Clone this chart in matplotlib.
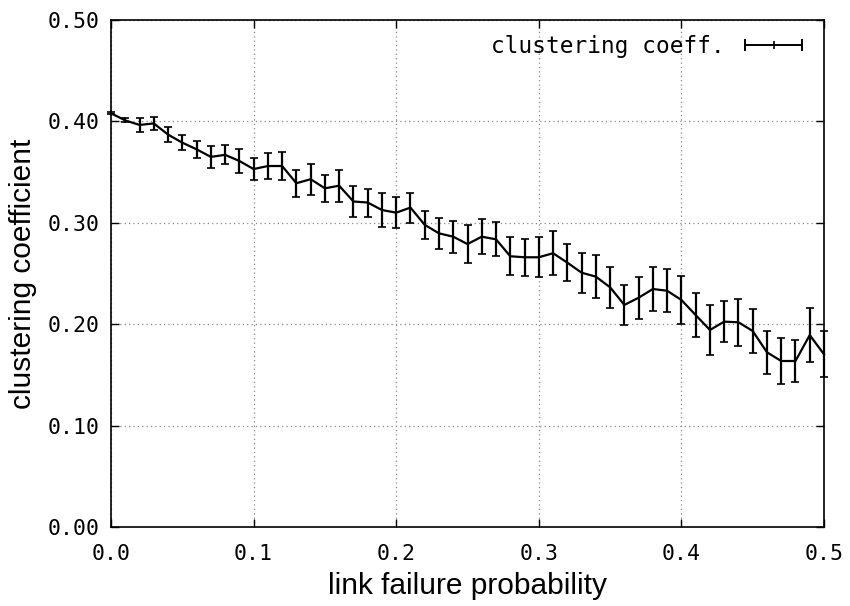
import matplotlib
matplotlib.use("Agg")
import matplotlib.pyplot as plt
from matplotlib.lines import Line2D
from matplotlib.legend_handler import HandlerLine2D
import numpy as np

failure_prob = [round(0.01 * i, 2) for i in range(51)]
clustering = [0.408, 0.401, 0.3965, 0.398, 0.387, 0.379, 0.3725, 0.365, 0.367, 0.361,
              0.353, 0.356, 0.356, 0.339, 0.343, 0.334, 0.3366, 0.321, 0.320, 0.3126,
              0.310, 0.315, 0.298, 0.2896, 0.2863, 0.279, 0.2863, 0.2837, 0.267, 0.266,
              0.266, 0.270, 0.2607, 0.2508, 0.2469, 0.2364, 0.219, 0.2261, 0.2347, 0.233,
              0.2239, 0.209, 0.1943, 0.2025, 0.2019, 0.1933, 0.1723, 0.1637, 0.1637, 0.1893,
              0.1703]
clustering_err = [0.001, 0.002, 0.007, 0.0062, 0.007, 0.0074, 0.0086, 0.0105, 0.0094, 0.0116,
                  0.0111, 0.0125, 0.0136, 0.0131, 0.0153, 0.0136, 0.0156, 0.0148, 0.0138, 0.0168,
                  0.0156, 0.0148, 0.0136, 0.0156, 0.0158, 0.0185, 0.0173, 0.0168, 0.0187, 0.0182,
                  0.0197, 0.0217, 0.0182, 0.0197, 0.0214, 0.0202, 0.0200, 0.0205, 0.0214, 0.0210,
                  0.0234, 0.0220, 0.0246, 0.0200, 0.0232, 0.0214, 0.0214, 0.0222, 0.0207, 0.0263,
                  0.0227]
xticks = [0.0, 0.1, 0.2, 0.3, 0.4, 0.5]
xtick_labels = ["0.0", "0.1", "0.2", "0.3", "0.4", "0.5"]
yticks = [0.0, 0.1, 0.2, 0.3, 0.4, 0.5]
ytick_labels = ["0.00", "0.10", "0.20", "0.30", "0.40", "0.50"]

mono = "DejaVu Sans Mono"
sans = "Liberation Sans"

fig = plt.figure(figsize=(8.5, 6.06), dpi=100)
ax = fig.add_axes([111 / 850, 79 / 606, 713 / 850, 507 / 606])

ax.errorbar(failure_prob, clustering, yerr=clustering_err, color="black", lw=1.6,
            elinewidth=1.6, capsize=3.0, capthick=1.6, marker="|", ms=5, mew=1.2,
            clip_on=False, zorder=3)

ax.set_xlim(0, 0.5)
ax.set_ylim(0, 0.5)
ax.set_xticks(xticks)
ax.set_xticklabels(xtick_labels, fontfamily=mono, fontsize=15.5)
ax.set_yticks(yticks)
ax.set_yticklabels(ytick_labels, fontfamily=mono, fontsize=15.5)
ax.tick_params(direction="in", length=6, width=1, top=True, right=True)
ax.tick_params(axis="x", pad=12)
ax.tick_params(axis="y", pad=8)
ax.grid(True, linestyle=(0, (1, 2.5)), color="#888888", lw=0.9)
for s in ax.spines.values():
    s.set_linewidth(1.2)

ax.set_xlabel("link failure probability", fontfamily=sans, fontsize=21.5, labelpad=6)
ax.set_ylabel("clustering coefficient", fontfamily=sans, fontsize=21.5, labelpad=8)

line_h = Line2D([], [], color="black", lw=1.4, marker="|", ms=8, mew=1.4)
mid_h = Line2D([], [], color="black", lw=0, marker="|", ms=6, mew=1.2)
ax.legend([(line_h, mid_h)], ["clustering coeff."],
          handler_map={line_h: HandlerLine2D(numpoints=2), mid_h: HandlerLine2D(numpoints=1)},
          loc="upper right", markerfirst=False, frameon=False,
          prop={"family": mono, "size": 16.4}, handlelength=3.1,
          borderaxespad=0.25, handletextpad=0.6)

fig.savefig("out.png", dpi=100)
